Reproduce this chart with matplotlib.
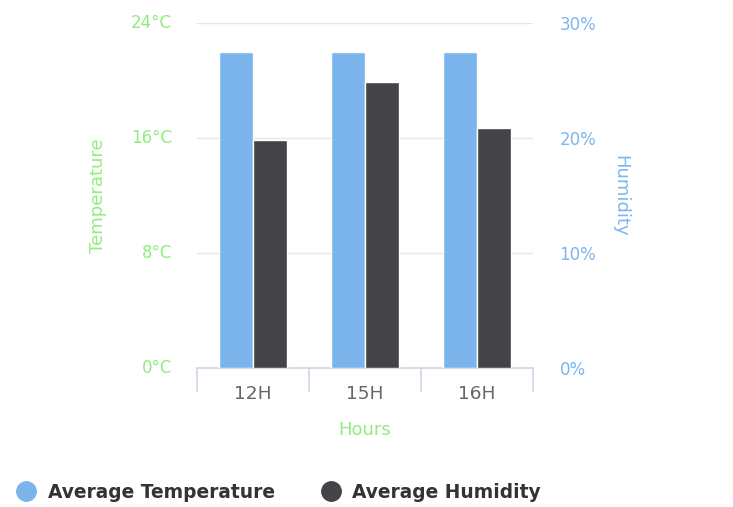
import matplotlib.pyplot as plt
import numpy as np
from matplotlib.lines import Line2D

hours = ['12H', '15H', '16H']
avg_temperature = [22, 22, 22]      # °C
avg_humidity = [19.8, 24.9, 20.9]   # %

temp_ticks = [0, 8, 16, 24]
hum_ticks = [0, 10, 20, 30]

blue = '#7cb5ec'
dark = '#434348'
green = '#90ed7d'
axis_line = '#ccd6eb'

plt.rcParams['font.family'] = 'DejaVu Sans'

fig = plt.figure(figsize=(7.33, 5.07), dpi=100)
ax = fig.add_axes([197 / 733, 1 - 368 / 507, 336 / 733, 345 / 507])
ax2 = ax.twinx()

x = np.arange(len(hours))
w = 0.3
ax.bar(x - w / 2, avg_temperature, width=w, color=blue, edgecolor='white', linewidth=1, zorder=3)
ax2.bar(x + w / 2, avg_humidity, width=w, color=dark, edgecolor='white', linewidth=1, zorder=3)

ax.set_xlim(-0.5, len(hours) - 0.5)
ax.set_ylim(0, 24)
ax2.set_ylim(0, 30)

# gridlines
for t in temp_ticks[1:]:
    ax.axhline(t, color='#e6e6e6', linewidth=1, zorder=0)

for a in (ax, ax2):
    for s in a.spines.values():
        s.set_visible(False)
ax.spines['bottom'].set_visible(True)
ax.spines['bottom'].set_color(axis_line)
ax.spines['bottom'].set_linewidth(1.2)

# category labels at centers, tick marks at boundaries
ax.set_xticks(x)
ax.set_xticklabels(hours)
ax.set_xticks(np.arange(-0.5, len(hours)), minor=True)
ax.tick_params(axis='x', which='major', length=0, pad=12, labelsize=13.3, labelcolor='#666666')
ax.tick_params(axis='x', which='minor', length=17, width=1.2, color=axis_line)

ax.set_yticks(temp_ticks)
ax.set_yticklabels([f'{t}°C' for t in temp_ticks])
ax.tick_params(axis='y', length=0, pad=18, labelsize=12, labelcolor=green)
for lbl in ax.get_yticklabels():
    lbl.set_verticalalignment('center')

ax2.set_yticks(hum_ticks)
ax2.set_yticklabels([f'{t}%' for t in hum_ticks])
ax2.tick_params(axis='y', length=0, pad=19, labelsize=12, labelcolor=blue)

ax.set_xlabel('Hours', color=green, fontsize=13, labelpad=13)
ax.set_ylabel('Temperature', color=green, fontsize=13, labelpad=17)
ax2.set_ylabel('Humidity', color=blue, fontsize=13, rotation=-90, labelpad=24)

handles = [
    Line2D([], [], marker='o', linestyle='', markersize=14, color=blue),
    Line2D([], [], marker='o', linestyle='', markersize=14, color=dark),
]
fig.legend(handles, ['Average Temperature', 'Average Humidity'], loc='center left',
           bbox_to_anchor=(-0.002, 1 - 492 / 507), ncol=2, frameon=False,
           prop={'weight': 'bold', 'size': 13.4}, labelcolor='#333333',
           handletextpad=0.55, columnspacing=2.4, handlelength=1.2)

fig.savefig('out.png', dpi=100)
